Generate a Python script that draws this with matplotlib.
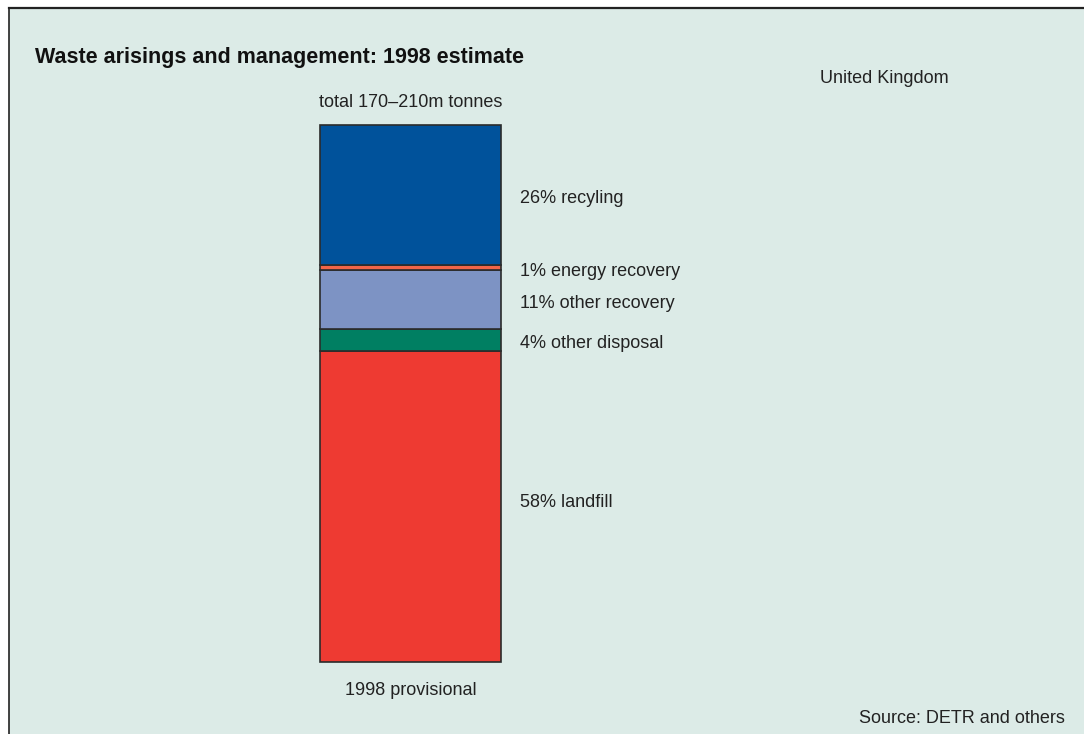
import matplotlib.pyplot as plt
from matplotlib.patches import Rectangle
from matplotlib.lines import Line2D

plt.rcParams['font.family'] = ['Liberation Sans', 'DejaVu Sans']

# shares of total waste arisings, top of bar first
categories = ['recyling', 'energy recovery', 'other recovery', 'other disposal', 'landfill']
shares = [26, 1, 11, 4, 58]
colors = ['#00529b', '#f26548', '#7d93c4', '#007f62', '#ee3a32']
# how far each label's baseline sits below its segment's middle (pixels)
label_drop = [8, 8.5, 8.5, 8, 0.5]

W, H = 1084, 734
fig = plt.figure(figsize=(W / 100, H / 100), dpi=100)
fig.patch.set_facecolor('white')

# panel background with a rule on the left and top
fig.patches.append(Rectangle((9 / W, 0), 1 - 9 / W, 1 - 8 / H, transform=fig.transFigure,
                             facecolor='#dcebe7', edgecolor='none', zorder=-1))
fig.lines.append(Line2D([9 / W, 9 / W], [0, 1 - 8 / H], transform=fig.transFigure,
                        color='#222222', lw=1.2, zorder=-0.5))
fig.lines.append(Line2D([9 / W, 1], [1 - 8 / H, 1 - 8 / H], transform=fig.transFigure,
                        color='#222222', lw=1.6, zorder=-0.5))

ax = fig.add_axes([320 / W, (H - 662) / H, 181 / W, 537 / H])
ax.patch.set_alpha(0)
ax.set_xlim(-0.5, 0.5)
ax.set_ylim(0, sum(shares))
ax.axis('off')

# stack from the bottom up (landfill first)
bottom = 0
for name, val, col, drop in reversed(list(zip(categories, shares, colors, label_drop))):
    ax.bar(0, val, width=1, bottom=bottom, color=col, edgecolor='#2b2b2b', linewidth=1.2,
           clip_on=False)
    ax.annotate(f'{val}% {name}', xy=(0.5, bottom + val / 2), xytext=(19 * 0.72, -drop * 0.72),
                textcoords='offset points', ha='left', va='baseline',
                fontsize=13, color='#222222', annotation_clip=False)
    bottom += val

ax.text(0.5, 1 + 18 / 537, 'total 170\u2013210m tonnes', transform=ax.transAxes, ha='center',
        va='baseline', fontsize=13, color='#222222')
ax.text(0.5, -33 / 537, '1998 provisional', transform=ax.transAxes, ha='center',
        va='baseline', fontsize=13, color='#222222')

fig.text(35 / W, 1 - 63 / H, 'Waste arisings and management: 1998 estimate', ha='left',
         va='baseline', fontsize=15.5, fontweight='bold', color='#111111')
fig.text(820 / W, 1 - 83 / H, 'United Kingdom', ha='left', va='baseline', fontsize=13,
         color='#222222')
fig.text(1065 / W, 1 - 723 / H, 'Source: DETR and others', ha='right', va='baseline',
         fontsize=13, color='#222222')

fig.savefig('out.png', dpi=100, facecolor=fig.get_facecolor())
